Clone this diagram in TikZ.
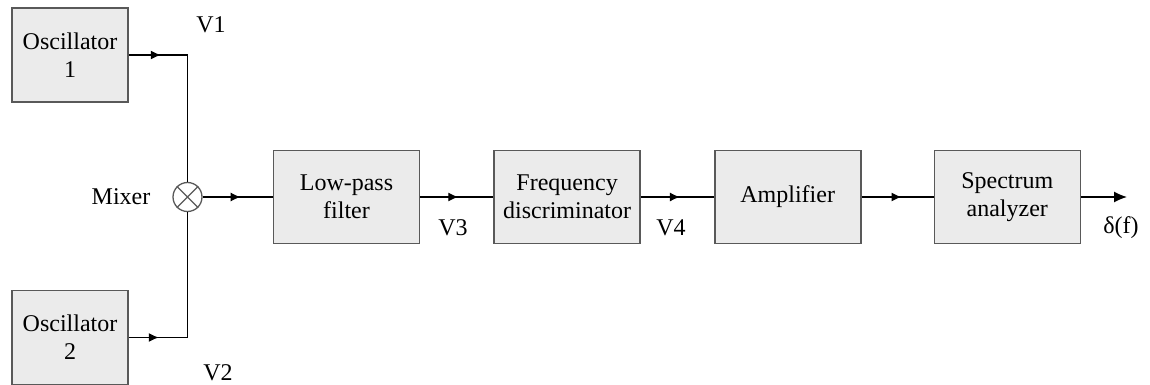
\documentclass[tikz,border=0pt]{standalone}
\usepackage{fontspec}
\newfontfamily\diagfont{Liberation Serif}
\usepackage{tikz}
\usetikzlibrary{positioning,arrows.meta,decorations.markings}

\begin{document}
\begin{tikzpicture}[
    x=0.5pt, y=-0.5pt,
    font=\diagfont\fontsize{12}{14}\selectfont,
    block/.style={draw=black!65, line width=0.8pt, fill=black!8, align=center, minimum width=73pt, minimum height=46.5pt, inner sep=1pt},
    osc/.style={block, minimum width=58pt, minimum height=47pt},
    wire/.style={line width=0.65pt},
    marr/.style={wire, postaction={decorate}, decoration={markings, mark=at position #1 with {\arrow{Latex[length=5pt,width=4.5pt]}}}},
  ]
    \useasboundingbox (0,0) rectangle (1150,385);

    % sources
    \node[osc] (osc1) at (70,55) {Oscillator\\1};
    \node[osc] (osc2) at (70,337.5) {Oscillator\\2};
    \node[circle, draw=black!65, line width=0.65pt, minimum size=14.5pt, inner sep=0pt] (mix) at (187.5,197) {};
    \draw[black!65, line width=0.65pt] (mix.45) -- (mix.225) (mix.135) -- (mix.315);
    \node (mixlbl) at (121,197) {Mixer};

    % processing chain
    \node[block] (lpf) at (346.5,197) {Low-pass\\filter};
    \node[block, right=36.5pt of lpf] (fd) {Frequency\\discriminator};
    \node[block, right=36.5pt of fd] (amp) {Amplifier};
    \node[block, right=36pt of amp] (spec) {Spectrum\\analyzer};
    \coordinate (out) at (1127,197);

    \draw[marr=16pt] (osc1.east) -| (mix.north);
    \draw[marr=15pt] (osc2.east) -| (mix.south);
    \draw[marr=19pt] (mix.east) -- (lpf.west);
    \draw[marr=19pt] (lpf.east) -- (fd.west);
    \draw[marr=19.5pt] (fd.east) -- (amp.west);
    \draw[marr=20pt] (amp.east) -- (spec.west);
    \draw[wire, -{Latex[length=6.5pt,width=5.5pt]}] (spec.east) -- (out);

    % signal labels
    \node (v1) at (211,25) {V1};
    \node (v2) at (218,373) {V2};
    \node (v3) at (453,228) {V3};
    \node (v4) at (671,228) {V4};
    \node (df) at (1121,228) {δ(f)};
  \end{tikzpicture}
\end{document}
